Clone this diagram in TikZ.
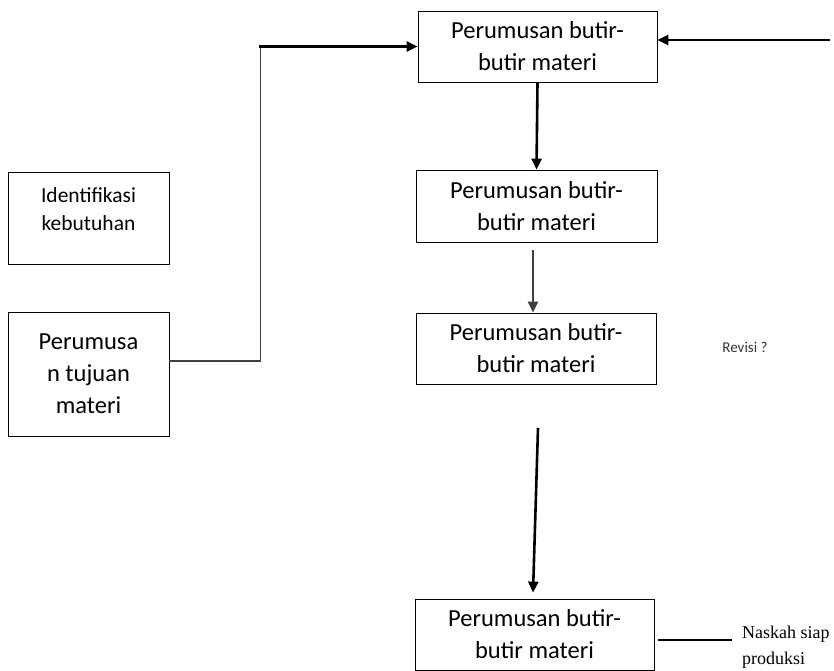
\documentclass[tikz,border=0pt]{standalone}
\usepackage{fontspec}
\setmainfont{Carlito}
\newfontfamily\naskahfont{Liberation Serif}
\usepackage{tikz}
\usetikzlibrary{arrows.meta}
\usetikzlibrary{positioning}
\usetikzlibrary{calc}

\begin{document}
\begin{tikzpicture}[x=1pt,y=-1pt,>={Triangle[length=11pt,width=10pt]},
	kotak/.style={draw, line width=0.8pt, align=center, inner sep=0pt, font=\fontsize{24.5}{32}\selectfont},
	panah/.style={->, line width=2.6pt}]
			\useasboundingbox (0,0) rectangle (834,670);
			%coordinates
			\coordinate (CA) at (537.5,46.5);
			\coordinate (CB) at (536.5,206);
			\coordinate (CC) at (536,348.5);
			\coordinate (CD) at (534.5,634.5);
			\coordinate (CI) at (88.5,218);
			\coordinate (CT) at (88.5,374);
			\coordinate (belok)   at (260.5,46.5);
			\coordinate (masukan) at (830,40);
			
			%nodes
			\node[kotak, minimum width=239pt, minimum height=71pt] (butirA) at (CA) {Perumusan butir-\\butir materi};
			\node[kotak, minimum width=241pt, minimum height=72pt] (butirB) at (CB) {Perumusan butir-\\butir materi};
			\node[kotak, minimum width=240pt, minimum height=71pt] (butirC) at (CC) {Perumusan butir-\\butir materi};
			\node[kotak, minimum width=239pt, minimum height=71pt] (butirD) at (CD) {Perumusan butir-\\butir materi};
			\node[kotak, minimum width=161pt, minimum height=92pt, font=\fontsize{21.5}{28}\selectfont, text height=44pt, text depth=20pt] (identifikasi) at (CI) {Identifikasi\\kebutuhan};
			\node[kotak, minimum width=161pt, minimum height=124pt] (tujuan) at (CT) {Perumusa\\n tujuan\\materi};
			\node[font=\fontsize{15}{18}\selectfont, text=black!80, inner sep=0pt] (revisi) at (745,347) {Revisi ?};
			\node[anchor=west, align=left, inner sep=0pt, font=\naskahfont\fontsize{18}{26}\selectfont] (naskah) at (742,647) {Naskah siap\\produksi};
			
			\draw[line width=1.2pt, black!75] ([yshift=13pt]tujuan.east) -| (belok);
			\draw[panah] ([xshift=-1.5pt]belok) -- (butirA.west);
			\draw[panah] (masukan) -- ([yshift=6.5pt]butirA.east);
			\draw[panah] (butirA.south) -- (butirB.north);
			\draw[panah, line width=2.3pt, black!75] ([xshift=-3.5pt,yshift=-8pt]butirB.south) -- ([xshift=-3pt]butirC.north);
			\draw[panah] ([xshift=2pt,yshift=-43.5pt]butirC.south) -- ([xshift=-1.5pt,yshift=6pt]butirD.north);
			\draw[line width=1.8pt] ([xshift=4pt,yshift=-5.5pt]butirD.east) -- ([xshift=-10pt,yshift=7pt]naskah.west);
			\end{tikzpicture}
\end{document}
